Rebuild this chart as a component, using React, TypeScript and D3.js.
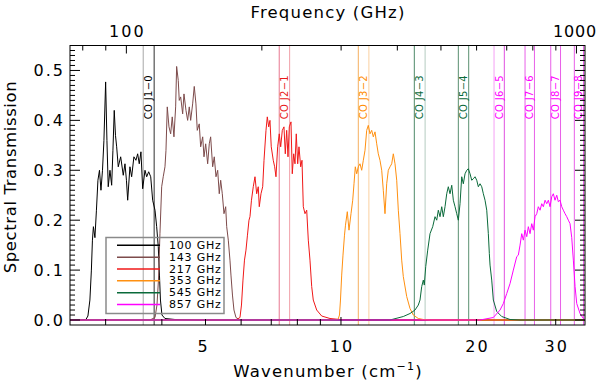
import React from 'react';
import * as d3 from 'd3';

// band transmission curves, wavenumber (cm^-1) vs transmission
const wn100 = [2.5, 2.712, 2.74, 2.768, 2.789, 2.804, 2.818, 2.84, 2.862, 2.884, 2.907, 2.929, 2.952, 2.974, 3.0, 3.02, 3.04, 3.067, 3.094, 3.114, 3.135, 3.155, 3.174, 3.2, 3.24, 3.283, 3.312, 3.337, 3.358, 3.397, 3.427, 3.467, 3.503, 3.534, 3.563, 3.594, 3.626, 3.669, 3.701, 3.739, 3.778, 3.816, 3.862, 3.895, 3.927, 3.951, 3.971, 4.002, 4.064, 4.277, 4.861, 34.85];
const tr100 = [0, 0.001, 0.008, 0.04, 0.1, 0.16, 0.187, 0.165, 0.22, 0.28, 0.3, 0.26, 0.3, 0.36, 0.477, 0.36, 0.267, 0.3, 0.27, 0.34, 0.42, 0.37, 0.347, 0.307, 0.327, 0.29, 0.313, 0.28, 0.24, 0.307, 0.287, 0.327, 0.32, 0.333, 0.313, 0.337, 0.263, 0.3, 0.287, 0.297, 0.287, 0.24, 0.22, 0.187, 0.147, 0.09, 0.04, 0.01, 0.003, 0.001, 0, 0];

const wn143 = [2.5, 3.764, 3.862, 3.901, 3.931, 3.961, 3.996, 4.028, 4.064, 4.085, 4.112, 4.148, 4.184, 4.218, 4.255, 4.292, 4.314, 4.35, 4.372, 4.404, 4.449, 4.479, 4.525, 4.564, 4.602, 4.635, 4.682, 4.721, 4.762, 4.794, 4.843, 4.878, 4.929, 4.962, 5.005, 5.056, 5.098, 5.134, 5.187, 5.23, 5.276, 5.322, 5.365, 5.404, 5.449, 5.496, 5.544, 5.573, 5.619, 5.667, 5.696, 5.74, 5.784, 5.844, 5.965, 34.85];
const tr143 = [0, 0, 0.005, 0.03, 0.08, 0.173, 0.267, 0.287, 0.307, 0.34, 0.427, 0.387, 0.373, 0.407, 0.367, 0.427, 0.508, 0.48, 0.44, 0.447, 0.413, 0.453, 0.42, 0.4, 0.427, 0.4, 0.433, 0.468, 0.433, 0.38, 0.393, 0.347, 0.367, 0.327, 0.353, 0.313, 0.353, 0.367, 0.307, 0.327, 0.287, 0.3, 0.253, 0.28, 0.253, 0.213, 0.227, 0.187, 0.16, 0.12, 0.09, 0.05, 0.02, 0.005, 0, 0];

const wn217 = [2.5, 5.844, 5.965, 6.011, 6.057, 6.104, 6.151, 6.198, 6.246, 6.278, 6.326, 6.385, 6.441, 6.497, 6.55, 6.584, 6.642, 6.7, 6.745, 6.814, 6.86, 6.909, 6.954, 7.0, 7.072, 7.123, 7.171, 7.233, 7.293, 7.346, 7.407, 7.471, 7.521, 7.575, 7.626, 7.677, 7.744, 7.795, 7.851, 7.904, 7.956, 8.014, 8.067, 8.138, 8.192, 8.247, 8.319, 8.392, 8.461, 8.534, 8.609, 8.679, 8.832, 9.061, 9.454, 9.95, 10.473, 34.85];
const tr217 = [0, 0, 0.005, 0.03, 0.08, 0.12, 0.14, 0.17, 0.2, 0.207, 0.24, 0.267, 0.287, 0.253, 0.267, 0.227, 0.253, 0.267, 0.32, 0.38, 0.407, 0.387, 0.4, 0.347, 0.32, 0.307, 0.287, 0.347, 0.373, 0.347, 0.38, 0.387, 0.333, 0.38, 0.327, 0.387, 0.397, 0.293, 0.333, 0.313, 0.373, 0.313, 0.347, 0.307, 0.32, 0.227, 0.213, 0.22, 0.16, 0.12, 0.067, 0.04, 0.02, 0.008, 0.003, 0.001, 0, 0];

const wn353 = [2.5, 9.454, 9.849, 9.925, 9.975, 10.037, 10.104, 10.182, 10.234, 10.329, 10.419, 10.527, 10.619, 10.69, 10.761, 10.838, 10.927, 11.023, 11.119, 11.211, 11.309, 11.407, 11.501, 11.601, 11.702, 11.799, 11.902, 12.006, 12.104, 12.21, 12.317, 12.418, 12.526, 12.636, 12.74, 12.852, 12.964, 13.071, 13.185, 13.3, 13.41, 13.526, 13.644, 13.756, 13.998, 14.236, 14.478, 14.854, 15.239, 15.771, 34.85];
const tr353 = [0, 0, 0.001, 0.01, 0.04, 0.09, 0.13, 0.17, 0.19, 0.217, 0.18, 0.213, 0.24, 0.273, 0.307, 0.293, 0.307, 0.313, 0.3, 0.32, 0.34, 0.38, 0.39, 0.373, 0.38, 0.367, 0.377, 0.353, 0.333, 0.32, 0.3, 0.26, 0.213, 0.273, 0.3, 0.307, 0.313, 0.333, 0.313, 0.28, 0.22, 0.173, 0.12, 0.087, 0.047, 0.023, 0.01, 0.003, 0.001, 0, 0];

const wn545 = [2.5, 12.852, 13.756, 14.236, 14.605, 14.854, 14.984, 15.115, 15.239, 15.317, 15.428, 15.586, 15.771, 15.99, 16.18, 16.321, 16.455, 16.599, 16.744, 16.882, 17.029, 17.178, 17.319, 17.471, 17.624, 17.769, 17.924, 18.08, 18.229, 18.388, 18.549, 18.701, 18.865, 19.029, 19.186, 19.354, 19.523, 19.684, 19.856, 20.029, 20.194, 20.37, 20.548, 20.717, 20.898, 21.08, 21.254, 21.363, 21.439, 21.626, 21.804, 22.187, 22.761, 23.749, 24.996, 34.85];
const tr545 = [0, 0, 0.007, 0.013, 0.02, 0.03, 0.04, 0.067, 0.08, 0.07, 0.107, 0.14, 0.173, 0.187, 0.207, 0.2, 0.22, 0.207, 0.227, 0.207, 0.227, 0.253, 0.267, 0.253, 0.27, 0.24, 0.227, 0.213, 0.2, 0.233, 0.287, 0.273, 0.293, 0.3, 0.303, 0.293, 0.28, 0.283, 0.287, 0.28, 0.267, 0.273, 0.267, 0.253, 0.24, 0.22, 0.173, 0.133, 0.11, 0.08, 0.04, 0.017, 0.007, 0.001, 0, 0];

const wn857 = [2.5, 20.37, 21.804, 22.564, 22.948, 23.351, 23.749, 24.153, 24.577, 24.779, 24.996, 25.214, 25.422, 25.644, 25.868, 26.08, 26.308, 26.538, 26.756, 26.99, 27.225, 27.449, 27.69, 27.932, 28.162, 28.408, 28.656, 28.891, 29.143, 29.398, 29.639, 29.898, 30.159, 30.407, 30.673, 30.941, 31.195, 31.468, 31.743, 32.004, 32.283, 32.565, 32.833, 33.0, 33.12, 33.409, 33.978, 34.557, 34.85];
const tr857 = [0, 0, 0.005, 0.02, 0.033, 0.053, 0.073, 0.1, 0.127, 0.13, 0.15, 0.173, 0.16, 0.18, 0.167, 0.187, 0.173, 0.193, 0.18, 0.207, 0.213, 0.227, 0.22, 0.233, 0.227, 0.24, 0.233, 0.24, 0.227, 0.247, 0.253, 0.24, 0.25, 0.237, 0.24, 0.227, 0.22, 0.213, 0.207, 0.2, 0.193, 0.165, 0.12, 0.09, 0.067, 0.033, 0.013, 0.003, 0];

const bandNames = ['100 GHz', '143 GHz', '217 GHz', '353 GHz', '545 GHz', '857 GHz'];
const bandColors = ['#000000', '#7d4b4b', '#f01818', '#ff9010', '#0a6a3a', '#ff00ff'];

// CO rotational lines (GHz): pairs of vertical markers
const coNames = ['CO J1\u22120', 'CO J2\u22121', 'CO J3\u22122', 'CO J4\u22123', 'CO J5\u22124', 'CO J6\u22125', 'CO J7\u22126', 'CO J8\u22127', 'CO J9\u22128'];
const coLow = [109.0, 218.6, 327.6, 436.3, 546.5, 656.0, 768.8, 876.8, 989.3];
const coHigh = [115.27, 230.54, 345.8, 461.04, 576.27, 691.47, 806.65, 921.8, 1036.91];
const coLowColors = ['#a8a8a8', '#e87890', '#f5b060', '#4f8a6a', '#5a9070', '#f5a0f5', '#e860e8', '#e860e8', '#e860e8'];
const coHighColors = ['#303030', '#f0a0a8', '#fad0a0', '#b4ccc0', '#5a9070', '#e050e0', '#e860e8', '#e860e8', '#e860e8'];
const coLabelColors = ['#000000', '#e81818', '#ff8c00', '#0a6a3a', '#0a6a3a', '#ff00ff', '#ff00ff', '#ff00ff', '#ff00ff'];

const bottomTicks = [3, 4, 5, 6, 7, 8, 9, 10, 20, 30];
const bottomLabels = [5, 10, 20, 30];
const topTicks = [80, 90, 100, 200, 300, 400, 500, 600, 700, 800, 900, 1000];
const topLabels = [100, 1000];
const yMajor = [0, 0.1, 0.2, 0.3, 0.4, 0.5];

const C_GHZ = 29.9792458; // GHz per cm^-1
const FONT = 'DejaVu Sans, sans-serif';

const App = () => {
  const left = 70, right = 585, top = 45.5, bottom = 325;
  const x = d3.scaleLog().domain([2.5, 34.85]).range([left, right]);
  const y = d3.scaleLinear().domain([-0.01, 0.55]).range([bottom, top]);
  const line = d3.line<[number, number]>().x(d => x(d[0])).y(d => y(d[1]));

  const curves = [
    [wn100, tr100], [wn143, tr143], [wn217, tr217],
    [wn353, tr353], [wn545, tr545], [wn857, tr857]
  ].map(([w, t]) => d3.zip(w, t) as [number, number][]);

  const yMinor = d3.range(0, 56).map(i => i / 100);
  const xf = (ghz: number) => x(ghz / C_GHZ);

  return (
    <svg width={600} height={384} style={{ position: 'absolute', left: 0, top: 0, background: '#fff' }} fontFamily={FONT}>
      {/* CO lines */}
      {coHigh.map((f, i) => (
        <g key={'co' + i}>
          <line x1={xf(coLow[i])} x2={xf(coLow[i])} y1={top} y2={bottom} stroke={coLowColors[i]} strokeWidth={1} />
          <line x1={xf(f)} x2={xf(f)} y1={top} y2={bottom} stroke={coHighColors[i]} strokeWidth={1} />
        </g>
      ))}

      {/* transmission curves */}
      {curves.map((c, i) => (
        <path key={'c' + i} d={line(c) || ''} fill="none" stroke={bandColors[i]} strokeWidth={1} />
      ))}

      {/* CO labels */}
      {coNames.map((n, i) => {
        const cx = (xf(coLow[i]) + xf(coHigh[i])) / 2;
        return (
          <text key={'cl' + i} transform={`translate(${cx},75) rotate(-90)`} textAnchor="end"
            dominantBaseline="central" fontSize={10} fill={coLabelColors[i]} letterSpacing={0.3}>{n}</text>
        );
      })}

      {/* legend */}
      <rect x={106} y={237.5} width={118} height={76} fill="none" stroke="#8a8a8a" strokeWidth={1.5} />
      {bandNames.map((n, i) => (
        <g key={'lg' + i}>
          <line x1={117} x2={160} y1={245.3 + i * 11.85} y2={245.3 + i * 11.85} stroke={bandColors[i]} strokeWidth={1.5} />
          <text x={169} y={245.3 + i * 11.85} dominantBaseline="central" fontSize={11} letterSpacing={0.8}>{n}</text>
        </g>
      ))}

      {/* frame */}
      <rect x={left} y={top} width={right - left} height={bottom - top} fill="none" stroke="#000" strokeWidth={1} />

      {/* left / right ticks */}
      {yMinor.map(v => {
        const major = Math.abs(v * 10 - Math.round(v * 10)) < 1e-6;
        const len = major ? 10 : 5;
        return (
          <g key={'yt' + v}>
            <line x1={left} x2={left + len} y1={y(v)} y2={y(v)} stroke="#000" />
            <line x1={right} x2={right - len} y1={y(v)} y2={y(v)} stroke="#000" />
          </g>
        );
      })}
      {yMajor.map(v => (
        <text key={'yl' + v} x={65} y={y(v)} textAnchor="end" dominantBaseline="central" fontSize={16} letterSpacing={2}>{v.toFixed(1)}</text>
      ))}

      {/* bottom axis */}
      {bottomTicks.map(v => (
        <line key={'bt' + v} x1={x(v)} x2={x(v)} y1={bottom} y2={bottom - (v === 10 ? 8 : 6)} stroke="#000" />
      ))}
      {bottomLabels.map(v => (
        <text key={'bl' + v} x={x(v) + (v === 5 ? -2 : 1)} y={352} textAnchor="middle" fontSize={16} letterSpacing={2}>{v}</text>
      ))}

      {/* top axis */}
      {topTicks.filter(f => f / C_GHZ >= 2.5).map(f => (
        <line key={'tt' + f} x1={xf(f)} x2={xf(f)} y1={top} y2={top + (f === 100 || f === 1000 ? 8 : 5)} stroke="#000" />
      ))}
      {topLabels.map(f => (
        <text key={'tl' + f} x={f === 1000 ? 597 : xf(f) + 1} y={36.7} textAnchor={f === 1000 ? 'end' : 'middle'}
          fontSize={16} letterSpacing={f === 1000 ? 0.8 : 2}>{f}</text>
      ))}

      {/* titles */}
      <text x={328} y={18} textAnchor="middle" fontSize={16.5} letterSpacing={1.2}>Frequency (GHz)</text>
      <text x={328} y={377} textAnchor="middle" fontSize={16.5} letterSpacing={1.2}>
        Wavenumber (cm<tspan dy={-7} fontSize={11}>{'\u22121'}</tspan><tspan dy={7}>)</tspan>
      </text>
      <text transform="translate(16,177) rotate(-90)" textAnchor="middle" fontSize={16.5} letterSpacing={0.6}>Spectral Transmission</text>
    </svg>
  );
};

export default App;
